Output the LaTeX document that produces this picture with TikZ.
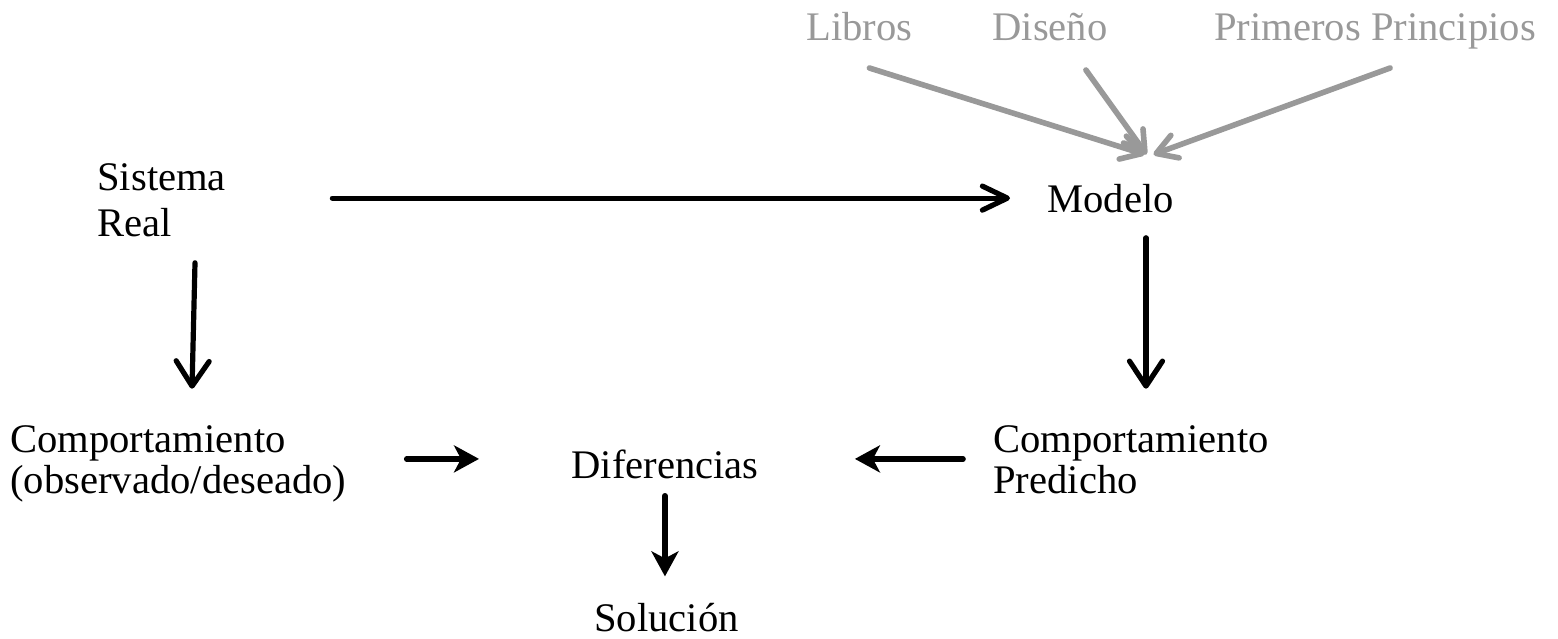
\documentclass[tikz,border=0pt]{standalone}
\usepackage{fontspec}
\setmainfont{Liberation Serif}
\usetikzlibrary{arrows.meta}
\definecolor{srcgray}{HTML}{999999}
\begin{document}
\begin{tikzpicture}[x=0.5pt,y=-0.5pt,
  lbl/.style={inner sep=0pt,anchor=base west,font=\fontsize{20.3pt}{22.5pt}\selectfont},
  twoline/.style={lbl,align=left,font=\fontsize{20.3pt}{20.5pt}\selectfont},
  src/.style={lbl,text=srcgray},
  openh/.style={black,line width=2.6pt,line cap=round,
    -{Straight Barb[round,length=12.5pt,width=12pt]}},
  openv/.style={black,line width=2.6pt,line cap=round,
    -{Straight Barb[round,length=12.5pt,width=16.5pt]}},
  solidarr/.style={black,line width=2.8pt,line cap=round,
    -{Stealth[length=12.5pt,width=13.5pt,inset=3.5pt]}},
  grayarr/.style={srcgray,line width=2.8pt,line cap=round,
    -{Straight Barb[round,length=10pt,width=12pt]}}]
\useasboundingbox (0,0) rectangle (1558,638);

% sources feeding the model
\node[src] (libros)   at (806,40)  {Libros};
\node[src] (diseno)   at (992,40)  {Diseño};
\node[src] (primeros) at (1214,40) {Primeros Principios};

% main blocks (base anchor of a two-line node sits on its last line)
\node[lbl,align=left,font=\fontsize{20.3pt}{23pt}\selectfont] (sr) at (97,236) {Sistema\\Real};
\node[lbl] (modelo) at (1047,212) {Modelo};
\node[twoline] (comp) at (10,493) {Comportamiento\\(observado/deseado)};
\node[twoline] (pred) at (993,493) {Comportamiento\\Predicho};
\node[lbl] (dif) at (571,478) {Diferencias};
\node[lbl] (sol) at (594,631) {Solución};

% gray inputs to the model
\draw[grayarr] ([xshift=5pt,yshift=-14pt]libros.base) -- ([xshift=17pt,yshift=14.5pt]modelo.north);
\draw[grayarr] ([xshift=18pt,yshift=-15pt]diseno.base) -- ([xshift=18pt,yshift=14.5pt]modelo.north);
\draw[grayarr] ([xshift=7.5pt,yshift=-14pt]primeros.base) -- ([xshift=21.5pt,yshift=14.5pt]modelo.north);

% system to model
\draw[openh] ([xshift=53pt]sr.east |- modelo.west) -- ([xshift=-18.5pt]modelo.west);

% downward arrows
\draw[openv] ([xshift=49pt,yshift=-13pt]sr.south west) -- ([xshift=91pt,yshift=18pt]comp.north west);
\draw[openv] ([xshift=49.5pt,yshift=-12.5pt]modelo.south west) -- ([xshift=76.5pt,yshift=18pt]pred.north west);

% comparisons
\draw[solidarr] ([xshift=30pt,yshift=2.5pt]comp.east |- dif.west) -- ([xshift=-46pt,yshift=2.5pt]dif.west);
\draw[solidarr] ([xshift=-15pt,yshift=2.5pt]pred.west |- dif.east) -- ([xshift=48pt,yshift=2.5pt]dif.east);
\draw[solidarr] ([yshift=-8.5pt]dif.south) -- ([yshift=13pt]dif.south |- sol.north);
\end{tikzpicture}
\end{document}
